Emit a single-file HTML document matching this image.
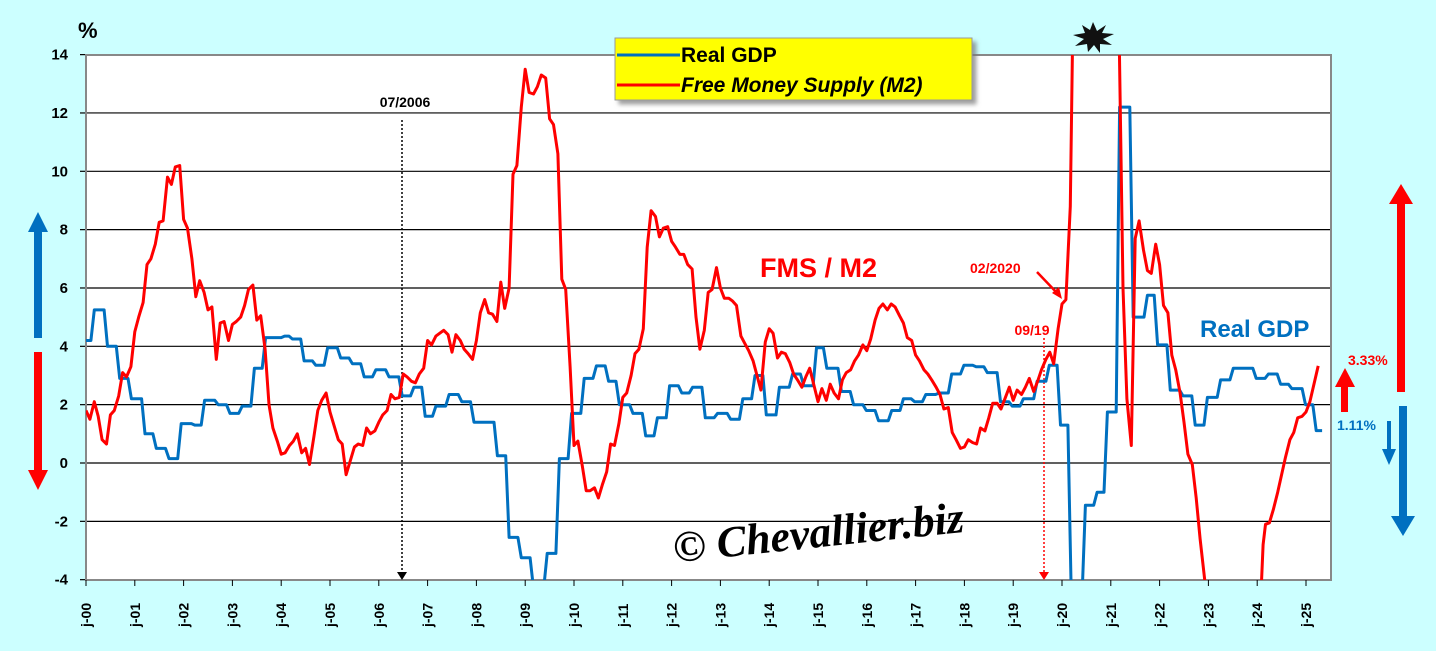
<!DOCTYPE html>
<html><head><meta charset="utf-8">
<style>
html,body{margin:0;padding:0;background:#ccffff;}
svg{display:block;font-family:"Liberation Sans",Arial,sans-serif;}
</style></head>
<body>
<svg id="c" width="1436" height="651" viewBox="0 0 1436 651" xmlns="http://www.w3.org/2000/svg">
<defs>
<clipPath id="pa"><rect x="86" y="55" width="1245" height="525"/></clipPath>
<filter id="sh" x="-5%" y="-5%" width="115%" height="130%"><feDropShadow dx="4" dy="4" stdDeviation="2" flood-color="#777" flood-opacity="0.7"/></filter>
</defs>
<rect x="86" y="55" width="1245" height="525" fill="#fff"/>
<g id="grid" stroke="#000" stroke-width="1.2"></g>
<rect x="86" y="55" width="1245" height="525" fill="none" stroke="#888" stroke-width="2"/>
<g id="ylab" font-size="15" font-weight="bold" text-anchor="end" fill="#000"></g>
<g id="xlab" font-size="14" font-weight="bold" fill="#000"></g>
<text x="78" y="38" font-size="22" font-weight="bold">%</text>

<!-- 07/2006 marker -->
<text x="405" y="107" font-size="14" font-weight="bold" text-anchor="middle">07/2006</text>
<line x1="402" y1="120" x2="402" y2="572" stroke="#000" stroke-width="1.5" stroke-dasharray="2,2"/>
<polygon points="397,572 407,572 402,580" fill="#000"/>

<!-- 09/19 marker -->
<text x="1032" y="335" font-size="14" font-weight="bold" fill="#f00" text-anchor="middle">09/19</text>
<line x1="1044" y1="338" x2="1044" y2="572" stroke="#f00" stroke-width="1.5" stroke-dasharray="2,2"/>
<polygon points="1039,572 1049,572 1044,580" fill="#f00"/>

<g clip-path="url(#pa)">
<path id="blue" fill="none" stroke="#0070c0" stroke-width="3" stroke-linejoin="round"/>
<path id="red" fill="none" stroke="#ff0000" stroke-width="3" stroke-linejoin="round"/>
</g>

<text x="760" y="277" font-size="27" font-weight="bold" fill="#f00">FMS / M2</text>
<text x="970" y="273" font-size="14" font-weight="bold" fill="#f00">02/2020</text>
<line x1="1037" y1="272" x2="1058" y2="294" stroke="#f00" stroke-width="2.5"/>
<polygon points="1062,299 1052,293 1059,287" fill="#f00"/>
<text x="1200" y="337" font-size="24" font-weight="bold" fill="#0070c0">Real GDP</text>

<!-- legend -->
<rect x="615" y="38" width="357" height="62" fill="#ffff00" stroke="#999" filter="url(#sh)"/>
<line x1="617" y1="55" x2="680" y2="55" stroke="#0070c0" stroke-width="3"/>
<line x1="617" y1="85" x2="680" y2="85" stroke="#f00" stroke-width="3"/>
<text x="681" y="62" font-size="21" font-weight="bold">Real GDP</text>
<text x="681" y="92" font-size="21" font-weight="bold" font-style="italic">Free Money Supply (M2)</text>

<!-- star -->
<polygon fill="#111" points="1093,22 1097,31 1106,25 1102,33 1114,34 1103,39 1112,45 1100,44 1100,53 1094,45 1088,52 1087,44 1075,46 1084,39 1073,35 1085,33 1082,25 1090,30"/>

<!-- left arrows -->
<rect x="34" y="230" width="8" height="108" fill="#0070c0"/>
<polygon points="28,232 48,232 38,212" fill="#0070c0"/>
<rect x="34" y="352" width="8" height="120" fill="#f00"/>
<polygon points="28,470 48,470 38,490" fill="#f00"/>

<!-- right arrows -->
<rect x="1397" y="202" width="8" height="190" fill="#f00"/>
<polygon points="1389,204 1413,204 1401,184" fill="#f00"/>
<rect x="1399" y="406" width="8" height="112" fill="#0070c0"/>
<polygon points="1391,516 1415,516 1403,536" fill="#0070c0"/>
<rect x="1341" y="386" width="7" height="26" fill="#f00"/>
<polygon points="1335,387 1355,387 1345,368" fill="#f00"/>
<text x="1348" y="365" font-size="14" font-weight="bold" fill="#f00">3.33%</text>
<rect x="1387" y="421" width="4" height="30" fill="#0070c0"/>
<polygon points="1382,449 1396,449 1389,465" fill="#0070c0"/>
<text x="1337" y="430" font-size="14" font-weight="bold" fill="#0070c0">1.11%</text>

<!-- watermark -->
<text x="672" y="548" font-size="44" font-family="'Liberation Serif',serif" font-style="italic" font-weight="bold" fill="#000" transform="rotate(-6 810 530)">© Chevallier.biz</text>
</svg>
<script>
var X=function(t){return 86+(t-2000)*48.8;}, Y=function(v){return 463-v*29.17;};
var g=document.getElementById('grid'),yl=document.getElementById('ylab'),xl=document.getElementById('xlab');
var ns='http://www.w3.org/2000/svg',s='';
for(var v=-4;v<=14;v+=2){var y=Y(v);
 if(v>-4&&v<14) s+='<line x1="86" x2="1331" y1="'+y+'" y2="'+y+'"/>';
 s+='<line x1="80" x2="86" y1="'+y+'" y2="'+y+'"/>';}
g.innerHTML=s;
s='';for(v=-4;v<=14;v+=2){s+='<text x="68" y="'+(Y(v)+5)+'">'+v+'</text>';}yl.innerHTML=s;
s='';for(var k=0;k<=25;k++){var x=X(2000+k);var lb='j-'+(k<10?'0':'')+k;
 s+='<line x1="'+x+'" x2="'+x+'" y1="580" y2="586" stroke="#000"/>';
 s+='<text transform="translate('+(x+5)+',627) rotate(-90)">'+lb+'</text>';}
xl.innerHTML=s;
var bs=[[2000,4.2],[2000.1,5.25],[2000.37,4.0],[2000.62,2.9],[2000.86,2.2],[2001.14,1.0],[2001.37,0.5],[2001.63,0.15],[2001.88,1.35],[2002.16,1.3],[2002.36,2.15],[2002.64,2.0],[2002.88,1.7],[2003.13,1.95],[2003.38,3.25],[2003.61,4.3],[2004.0,4.35],[2004.16,4.25],[2004.4,3.5],[2004.64,3.35],[2004.88,3.95],[2005.15,3.6],[2005.39,3.4],[2005.63,2.95],[2005.87,3.2],[2006.14,2.95],[2006.41,2.3],[2006.65,2.6],[2006.88,1.6],[2007.1,1.95],[2007.37,2.35],[2007.63,2.1],[2007.88,1.4],[2008.36,0.25],[2008.6,-2.55],[2008.85,-3.25],[2009.1,-4.3],[2009.38,-3.1],[2009.63,0.15],[2009.88,1.7],[2010.14,2.9],[2010.39,3.33],[2010.64,2.8],[2010.86,2.0],[2011.14,1.7],[2011.4,0.93],[2011.64,1.55],[2011.89,2.65],[2012.14,2.4],[2012.36,2.6],[2012.62,1.55],[2012.87,1.7],[2013.14,1.5],[2013.39,2.2],[2013.64,3.0],[2013.87,1.65],[2014.14,2.6],[2014.41,3.05],[2014.64,2.65],[2014.9,3.95],[2015.11,3.25],[2015.41,2.45],[2015.66,2.0],[2015.92,1.8],[2016.17,1.45],[2016.44,1.8],[2016.68,2.2],[2016.91,2.1],[2017.14,2.35],[2017.41,2.4],[2017.67,3.05],[2017.92,3.35],[2018.17,3.3],[2018.4,3.1],[2018.67,2.1],[2018.91,1.95],[2019.14,2.2],[2019.42,2.8],[2019.67,3.35],[2019.9,1.3],[2020.12,-4.6],[2020.41,-1.45],[2020.65,-1.0],[2020.86,1.75],[2021.11,12.2],[2021.39,5.0],[2021.68,5.75],[2021.89,4.05],[2022.15,2.5],[2022.41,2.3],[2022.66,1.3],[2022.91,2.25],[2023.18,2.85],[2023.44,3.25],[2023.91,2.9],[2024.16,3.05],[2024.41,2.7],[2024.64,2.55],[2024.92,2.0],[2025.14,1.11]];
var d='M'+X(2000)+','+Y(bs[0][1]);
for(var i=1;i<bs.length;i++){d+=' L'+X(bs[i][0]).toFixed(1)+','+Y(bs[i-1][1]).toFixed(1)+' L'+X(bs[i][0]+0.07).toFixed(1)+','+Y(bs[i][1]).toFixed(1);}
d+=' L'+X(2025.33).toFixed(1)+','+Y(1.11).toFixed(1);
document.getElementById('blue').setAttribute('d',d);
var r=[[2000.0,1.8],[2000.08,1.5],[2000.17,2.1],[2000.25,1.6],[2000.33,0.8],[2000.42,0.65],[2000.5,1.65],[2000.58,1.8],[2000.67,2.3],[2000.75,3.1],[2000.83,2.95],[2000.92,3.3],[2001.0,4.5],[2001.08,5.0],[2001.17,5.5],[2001.25,6.8],[2001.33,7.0],[2001.42,7.5],[2001.5,8.25],[2001.58,8.3],[2001.67,9.8],[2001.75,9.55],[2001.83,10.15],[2001.92,10.2],[2002.0,8.35],[2002.08,8.05],[2002.17,7.0],[2002.25,5.7],[2002.33,6.25],[2002.42,5.85],[2002.5,5.25],[2002.58,5.35],[2002.67,3.55],[2002.75,4.8],[2002.83,4.85],[2002.92,4.2],[2003.0,4.75],[2003.08,4.85],[2003.17,5.0],[2003.25,5.4],[2003.33,5.95],[2003.42,6.1],[2003.5,4.9],[2003.58,5.05],[2003.67,3.9],[2003.75,2.0],[2003.83,1.2],[2003.92,0.75],[2004.0,0.3],[2004.08,0.35],[2004.17,0.6],[2004.25,0.75],[2004.33,1.0],[2004.42,0.35],[2004.5,0.5],[2004.58,-0.05],[2004.67,0.9],[2004.75,1.8],[2004.83,2.15],[2004.92,2.4],[2005.0,1.75],[2005.08,1.3],[2005.17,0.8],[2005.25,0.65],[2005.33,-0.4],[2005.42,0.1],[2005.5,0.55],[2005.58,0.65],[2005.67,0.6],[2005.75,1.2],[2005.83,1.0],[2005.92,1.1],[2006.0,1.4],[2006.08,1.65],[2006.17,1.8],[2006.25,2.35],[2006.33,2.2],[2006.42,2.25],[2006.5,3.05],[2006.58,2.95],[2006.67,2.8],[2006.75,2.75],[2006.83,3.05],[2006.92,3.25],[2007.0,4.2],[2007.08,4.05],[2007.17,4.35],[2007.25,4.45],[2007.33,4.55],[2007.42,4.4],[2007.5,3.8],[2007.58,4.4],[2007.67,4.2],[2007.75,3.9],[2007.83,3.75],[2007.92,3.55],[2008.0,4.2],[2008.08,5.15],[2008.17,5.6],[2008.25,5.15],[2008.33,5.1],[2008.42,4.85],[2008.5,6.2],[2008.58,5.3],[2008.67,6.0],[2008.75,9.9],[2008.83,10.2],[2008.92,12.2],[2009.0,13.5],[2009.08,12.7],[2009.17,12.65],[2009.25,12.9],[2009.33,13.3],[2009.42,13.2],[2009.5,11.8],[2009.58,11.6],[2009.67,10.6],[2009.75,6.3],[2009.83,5.95],[2009.92,3.3],[2010.0,0.6],[2010.08,0.75],[2010.17,-0.1],[2010.25,-0.95],[2010.33,-0.95],[2010.42,-0.85],[2010.5,-1.2],[2010.58,-0.75],[2010.67,-0.3],[2010.75,0.65],[2010.83,0.6],[2010.92,1.35],[2011.0,2.25],[2011.08,2.4],[2011.17,3.0],[2011.25,3.75],[2011.33,3.9],[2011.42,4.6],[2011.5,7.4],[2011.58,8.65],[2011.67,8.45],[2011.75,7.75],[2011.83,8.05],[2011.92,8.1],[2012.0,7.6],[2012.08,7.4],[2012.17,7.15],[2012.25,7.15],[2012.33,6.8],[2012.42,6.65],[2012.5,5.0],[2012.58,3.9],[2012.67,4.55],[2012.75,5.85],[2012.83,5.95],[2012.92,6.7],[2013.0,6.0],[2013.08,5.65],[2013.17,5.65],[2013.25,5.55],[2013.33,5.4],[2013.42,4.35],[2013.5,4.1],[2013.58,3.85],[2013.67,3.5],[2013.75,3.0],[2013.83,2.5],[2013.92,4.15],[2014.0,4.6],[2014.08,4.45],[2014.17,3.6],[2014.25,3.8],[2014.33,3.75],[2014.42,3.45],[2014.5,3.05],[2014.58,2.85],[2014.67,2.6],[2014.75,2.95],[2014.83,3.25],[2015.0,2.1],[2015.08,2.55],[2015.17,2.15],[2015.25,2.7],[2015.33,2.4],[2015.42,2.2],[2015.5,2.85],[2015.58,3.1],[2015.67,3.2],[2015.75,3.5],[2015.83,3.7],[2015.92,4.05],[2016.0,3.85],[2016.08,4.25],[2016.17,4.9],[2016.25,5.3],[2016.33,5.45],[2016.42,5.25],[2016.5,5.45],[2016.58,5.35],[2016.67,5.05],[2016.75,4.8],[2016.83,4.3],[2016.92,4.2],[2017.0,3.7],[2017.08,3.5],[2017.17,3.2],[2017.25,3.05],[2017.33,2.85],[2017.42,2.6],[2017.5,2.35],[2017.58,1.85],[2017.67,1.9],[2017.75,1.05],[2017.83,0.8],[2017.92,0.5],[2018.0,0.55],[2018.08,0.8],[2018.17,0.7],[2018.25,0.65],[2018.33,1.2],[2018.42,1.1],[2018.5,1.55],[2018.58,2.05],[2018.67,2.05],[2018.75,1.85],[2018.83,2.2],[2018.92,2.6],[2019.0,2.15],[2019.08,2.5],[2019.17,2.35],[2019.25,2.6],[2019.33,2.9],[2019.42,2.45],[2019.5,2.8],[2019.58,3.2],[2019.67,3.55],[2019.75,3.8],[2019.83,3.4],[2019.92,4.6],[2020.0,5.45],[2020.08,5.6],[2020.17,8.8],[2020.22,14.8],[2021.17,14.8],[2021.25,6.0],[2021.33,2.2],[2021.42,0.6],[2021.5,7.7],[2021.58,8.3],[2021.67,7.3],[2021.75,6.6],[2021.83,6.5],[2021.92,7.5],[2022.0,6.8],[2022.08,5.4],[2022.17,5.15],[2022.25,3.7],[2022.33,3.2],[2022.42,2.4],[2022.5,1.4],[2022.58,0.3],[2022.67,-0.05],[2022.75,-1.2],[2022.83,-2.6],[2022.95,-4.4],[2024.08,-4.4],[2024.12,-2.8],[2024.17,-2.1],[2024.25,-2.05],[2024.33,-1.6],[2024.42,-1.0],[2024.5,-0.4],[2024.58,0.2],[2024.67,0.8],[2024.75,1.05],[2024.83,1.55],[2024.92,1.6],[2025.0,1.75],[2025.08,2.1],[2025.25,3.33]];
d='';for(i=0;i<r.length;i++){d+=(i?' L':'M')+X(r[i][0]).toFixed(1)+','+Y(r[i][1]).toFixed(1);}
document.getElementById('red').setAttribute('d',d);
</script>
</body></html>
